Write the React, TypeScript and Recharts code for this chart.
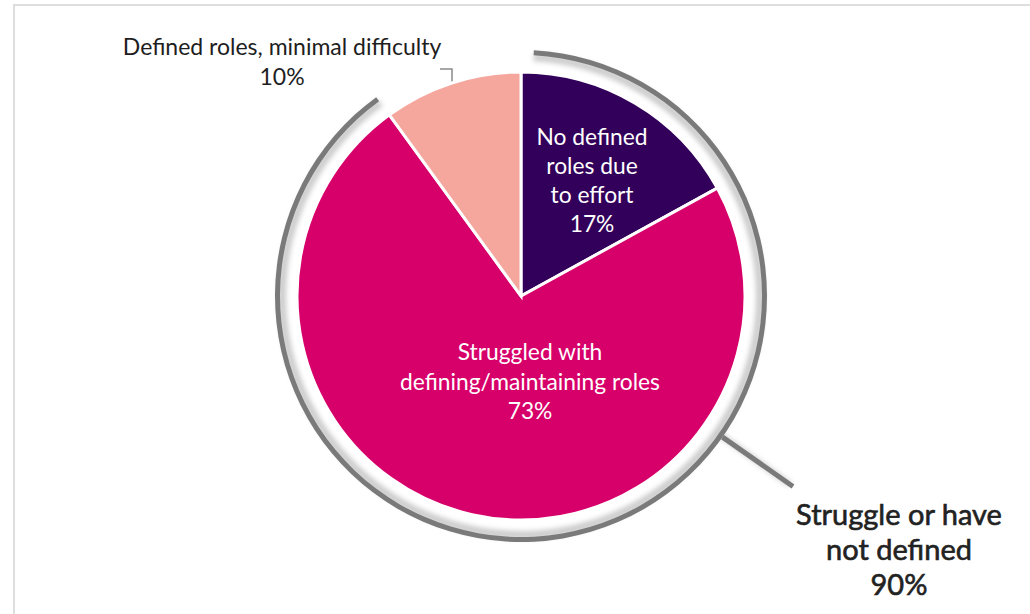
import React from 'react';
import { PieChart, Pie, Cell, Customized } from 'recharts';

const categories = [
  'No defined roles due to effort',
  'Struggled with defining/maintaining roles',
  'Defined roles, minimal difficulty',
];
const labelLines = [
  ['No defined', 'roles due', 'to effort'],
  ['Struggled with', 'defining/maintaining roles'],
  ['Defined roles, minimal difficulty'],
];
const values = [17, 73, 10];
const colors = ['#32005A', '#D7006A', '#F5A79E'];
const groupValues = [90, 10];
const groupLabelLines = ['Struggle or have', 'not defined'];
const groupPercent = 90;

const W = 1030;
const H = 614;
const CX = 521;
const CY = 296;
const R = 224;
const FONT = 'Lato, "Open Sans", sans-serif';

const pieData = categories.map((name, i) => ({ name, value: values[i] }));
const groupData = groupValues.map((value, i) => ({ name: i === 0 ? 'group' : 'rest', value }));

// label placement per slice: radius factor, angle offset from mid angle, line height, color, font size
const labelPlacement = [
  { rf: 0.607, dA: -0.9, lh: 29, color: '#ffffff', fs: 22.8 },
  { rf: 0.386, dA: 18.6, lh: 29.5, color: '#ffffff', fs: 22.8 },
  { rf: 1.493, dA: 27.6, lh: 30, color: '#1e1e1e', fs: 23 },
];

const RAD = Math.PI / 180;

const renderLabel = (props: any) => {
  const { cx, cy, midAngle, outerRadius, index } = props;
  const p = labelPlacement[index];
  const ang = (midAngle + p.dA) * RAD;
  const x = cx + outerRadius * p.rf * Math.cos(ang);
  const y = cy - outerRadius * p.rf * Math.sin(ang);
  const lines = [...labelLines[index], `${values[index]}%`];
  const y0 = y - ((lines.length - 1) / 2) * p.lh;
  return (
    <text
      key={`lbl-${index}`}
      x={x}
      y={y0}
      textAnchor="middle"
      fill={p.color}
      fontSize={p.fs}
      fontFamily={FONT}
    >
      {lines.map((l, i) => (
        <tspan key={i} x={x} y={y0 + i * p.lh} dy="0.35em">
          {l}
        </tspan>
      ))}
    </text>
  );
};

const Extras = () => {
  const ang = -35 * RAD;
  const r1 = 246;
  const r2 = 332;
  const x1 = CX + r1 * Math.cos(ang);
  const y1 = CY - r1 * Math.sin(ang);
  const x2 = CX + r2 * Math.cos(ang);
  const y2 = CY - r2 * Math.sin(ang);
  const lx = CX + 378;
  const ly = CY + 254;
  const lines = [...groupLabelLines, `${groupPercent}%`];
  const lh = 35;
  const y0 = ly - lh;
  return (
    <g>
      <defs>
        <filter id="blurShadow" x="-20%" y="-20%" width="140%" height="140%">
          <feGaussianBlur stdDeviation="2.5" />
        </filter>
      </defs>
      <line x1={x1 - 3} y1={y1 - 3} x2={x2 - 3} y2={y2 - 2} stroke="#000" strokeOpacity={0.18} strokeWidth={6} filter="url(#blurShadow)" />
      <line x1={x1} y1={y1} x2={x2} y2={y2} stroke="#7a7a7a" strokeWidth={5} />
      <path d={`M${CX - 81},${CY - 227} H${CX - 69} V${CY - 214}`} fill="none" stroke="#8a8a8a" strokeWidth={1.5} />
      <text x={lx} y={y0} textAnchor="middle" fill="#222" stroke="#222" strokeWidth={0.6} fontSize={29} fontFamily={FONT}>
        {lines.map((l, i) => (
          <tspan key={i} x={lx} y={y0 + i * lh} dy="0.35em">
            {l}
          </tspan>
        ))}
      </text>
    </g>
  );
};

export default function App() {
  return (
    <div style={{ position: 'absolute', left: 0, top: 0, width: W, height: H, overflow: 'hidden', background: '#fff' }}>
      <div
        style={{
          position: 'absolute',
          left: 13,
          top: 4,
          width: W + 100,
          height: H + 100,
          border: '2px solid #dedede',
          boxSizing: 'border-box',
        }}
      />
      <div style={{ position: 'absolute', left: 0, top: 0 }}>
        <PieChart width={W} height={H} margin={{ top: 0, right: 0, bottom: 0, left: 0 }}>
          <Customized component={Extras} />
          <Pie
            data={groupData}
            dataKey="value"
            cx={CX}
            cy={CY}
            innerRadius={235}
            outerRadius={243}
            startAngle={87}
            endAngle={-273}
            paddingAngle={1.7}
            stroke="none"
            isAnimationActive={false}
            label={false}
            labelLine={false}
          >
            {groupData.map((d, i) => (
              <Cell key={i} fill={i === 0 ? 'rgba(0,0,0,0.2)' : 'none'} filter="url(#blurShadow)" />
            ))}
          </Pie>
          <Pie
            data={groupData}
            dataKey="value"
            cx={CX}
            cy={CY}
            innerRadius={241}
            outerRadius={246}
            startAngle={87}
            endAngle={-273}
            paddingAngle={1.7}
            stroke="none"
            isAnimationActive={false}
            label={false}
            labelLine={false}
          >
            {groupData.map((d, i) => (
              <Cell key={i} fill={i === 0 ? '#7a7a7a' : 'none'} />
            ))}
          </Pie>
          <Pie
            data={pieData}
            dataKey="value"
            cx={CX}
            cy={CY}
            innerRadius={0}
            outerRadius={R}
            startAngle={90}
            endAngle={-270}
            stroke="#ffffff"
            strokeWidth={3}
            isAnimationActive={false}
            label={renderLabel}
            labelLine={false}
          >
            {pieData.map((d, i) => (
              <Cell key={i} fill={colors[i]} />
            ))}
          </Pie>
        </PieChart>
      </div>
    </div>
  );
}
